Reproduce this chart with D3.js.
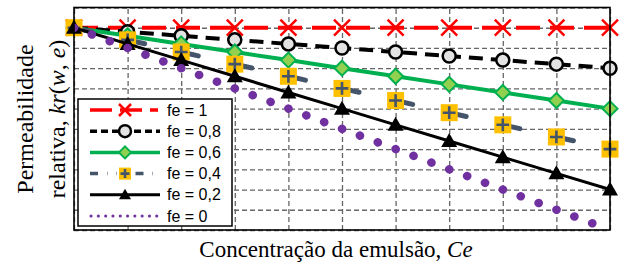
<!DOCTYPE html>
<html>
<head>
  <meta charset="utf-8">
  <title>Permeabilidade relativa</title>
  <style>
    body { margin: 0; background: #fff; }
    .grid line { stroke: #666; stroke-width: 1.3; stroke-dasharray: 5,3; }
    .grid .domain { display: none; }
  </style>
</head>
<body>
  <script src="https://d3js.org/d3.v7.min.js"></script>
  <script type="text/javascript">

// Ce (x axis), one point per grid line
var ce = [0, 1, 2, 3, 4, 5, 6, 7, 8, 9, 10];

// kr(w, e) for each fe
var fe1  = [1, 1, 1, 1, 1, 1, 1, 1, 1, 1, 1];
var fe08 = [1, 0.98, 0.96, 0.94, 0.92, 0.90, 0.88, 0.86, 0.84, 0.82, 0.80];
var fe06 = [1, 0.96, 0.92, 0.88, 0.84, 0.80, 0.76, 0.72, 0.68, 0.64, 0.60];
var fe04 = [1, 0.94, 0.88, 0.82, 0.76, 0.70, 0.64, 0.58, 0.52, 0.46, 0.40];
var fe02 = [1, 0.92, 0.84, 0.76, 0.68, 0.60, 0.52, 0.44, 0.36, 0.28, 0.20];
var fe0  = [1, 0.90, 0.80, 0.70, 0.60, 0.50, 0.40, 0.30, 0.20, 0.10, 0.00];

var seriesLabels = ["fe = 1", "fe = 0,8", "fe = 0,6", "fe = 0,4", "fe = 0,2", "fe = 0"];
var yTicks = [0, 0.1, 0.2, 0.3, 0.4, 0.5, 0.6, 0.7, 0.8, 0.9, 1.0, 1.1];

var margin = {top: 7.5, right: 14, bottom: 39, left: 74},
    width  = 624 - margin.left - margin.right,
    height = 269 - margin.top - margin.bottom;

var svg = d3.select("body")
    .append("svg")
    .attr("width", 624)
    .attr("height", 269);

var chart = svg.append("g")
    .attr("transform", "translate(" + margin.left + "," + margin.top + ")");

var xScale = d3.scaleLinear().domain([0, 10]).range([0, width]);
var yScale = d3.scaleLinear().domain([0, 1.1]).range([height, 0]);

// grid lines, no tick labels in the original
chart.append("g")
    .attr("class", "grid")
    .attr("transform", "translate(0," + height + ")")
    .call(d3.axisBottom(xScale).tickValues(ce).tickSize(-height).tickFormat(""));

chart.append("g")
    .attr("class", "grid")
    .call(d3.axisLeft(yScale).tickValues(yTicks).tickSize(-width).tickFormat(""));

chart.append("clipPath").attr("id", "plotclip")
  .append("rect").attr("width", width).attr("height", height);

var line = d3.line()
    .x(function(d){ return xScale(d[0]); })
    .y(function(d){ return yScale(d[1]); });

function pairs(vals){ return ce.map(function(c, i){ return [c, vals[i]]; }); }

// marker drawing helpers
function drawX(g, s){
  g.append("path").attr("d", "M" + (-s) + "," + (-s) + "L" + s + "," + s + "M" + (-s) + "," + s + "L" + s + "," + (-s))
    .attr("stroke", "#ff0000").attr("stroke-width", 2.5).attr("fill", "none");
}
function drawCircle(g, s){
  g.append("circle").attr("r", s).attr("fill", "#e3e3e3").attr("stroke", "#000").attr("stroke-width", 2.5);
}
function drawDiamond(g, s){
  g.append("path").attr("d", "M0," + (-s) + "L" + s + ",0L0," + s + "L" + (-s) + ",0Z")
    .attr("fill", "#92d050").attr("stroke", "#00b050").attr("stroke-width", 2);
}
function drawSquarePlus(g, s){
  g.append("rect").attr("x", -s).attr("y", -s).attr("width", 2 * s).attr("height", 2 * s).attr("fill", "#ffc000");
  var p = s * 0.75;
  g.append("path").attr("d", "M" + (-p) + ",0L" + p + ",0M0," + (-p) + "L0," + p)
    .attr("stroke", "#44546a").attr("stroke-width", 2.6);
}
function drawTriangle(g, s){
  g.append("path").attr("d", "M0," + (-s) + "L" + (s * 1.0) + "," + (s * 0.75) + "L" + (-s * 1.0) + "," + (s * 0.75) + "Z")
    .attr("fill", "#000");
}

var series = [
  {name: seriesLabels[0], values: fe1,  color: "#ff0000", width: 4,   dash: "24,10", off: 0, cap: "butt",  marker: drawX,          size: 8,   legSize: 6},
  {name: seriesLabels[1], values: fe08, color: "#000000", width: 4,   dash: "14,8",  off: 0, cap: "butt",  marker: drawCircle,     size: 6.5, legSize: 6},
  {name: seriesLabels[2], values: fe06, color: "#00b050", width: 4,   dash: null,    off: 0, cap: "butt",  marker: drawDiamond,    size: 7.5, legSize: 6},
  {name: seriesLabels[3], values: fe04, color: "#44546a", width: 5,   dash: "23,31.95", off: 5.5, cap: "round", marker: drawSquarePlus, size: 8.5, legSize: 6},
  {name: seriesLabels[4], values: fe02, color: "#000000", width: 3,   dash: null,    off: 0, cap: "butt",  marker: drawTriangle,   size: 8,   legSize: 6},
  {name: seriesLabels[5], values: fe0,  color: "#7030a0", width: 8.5, dash: "0.2,18.9", off: 0.1, cap: "round", marker: null,      size: 0,   legSize: 0}
];

series.forEach(function(s){
  var g = chart.append("g");
  var path = g.append("path")
      .datum(pairs(s.values))
      .attr("d", line)
      .attr("fill", "none")
      .attr("stroke", s.color)
      .attr("stroke-width", s.width)
      .attr("stroke-linecap", s.cap);
  if (s.dash) path.attr("stroke-dasharray", s.dash).attr("stroke-dashoffset", s.off);
  if (!s.marker) path.attr("clip-path", "url(#plotclip)");
  if (s.marker) {
    g.selectAll(".mk")
      .data(pairs(s.values))
      .enter()
      .append("g")
      .attr("transform", function(d){ return "translate(" + xScale(d[0]) + "," + yScale(d[1]) + ")"; })
      .each(function(){ s.marker(d3.select(this), s.size); });
  }
});

// plot border
chart.append("rect")
    .attr("width", width).attr("height", height)
    .attr("fill", "none").attr("stroke", "#000").attr("stroke-width", 1.6);

// legend
var legend = svg.append("g").attr("transform", "translate(78,99)");
legend.append("rect")
    .attr("width", 154).attr("height", 127)
    .attr("fill", "#fff").attr("stroke", "#000").attr("stroke-width", 1.5);

series.forEach(function(s, i){
  var yy = 11 + i * 21.2;
  var row = legend.append("g").attr("transform", "translate(0," + yy + ")");
  var l = row.append("line")
      .attr("x1", 12).attr("x2", 82).attr("y1", 0).attr("y2", 0)
      .attr("stroke", s.color)
      .attr("stroke-width", s.marker ? Math.min(s.width, 3.5) : 3)
      .attr("stroke-linecap", s.cap);
  if (i === 0) l.attr("stroke-dasharray", "22,8,22,8,8");
  else if (i === 1) l.attr("stroke-dasharray", "7,4");
  else if (i === 3) l.attr("stroke-dasharray", "8,9,0.5,9,0.5,9,0.5,9").attr("stroke-linecap", "butt");
  else if (i === 5) l.attr("stroke-dasharray", "0.1,7.2").attr("x1", 13);
  if (s.marker) {
    var m = row.append("g").attr("transform", "translate(47,0)");
    s.marker(m, s.legSize);
  }
  row.append("text")
      .attr("x", 89).attr("y", 5.6)
      .attr("font-family", "Liberation Sans, Arial, sans-serif")
      .attr("font-size", "16px")
      .attr("fill", "#000")
      .text(s.name);
});

// axis titles
var yTitle = svg.append("text")
    .attr("transform", "translate(0,119) rotate(-90)")
    .attr("text-anchor", "middle")
    .attr("font-family", "Liberation Serif, Times New Roman, serif")
    .attr("font-size", "24px")
    .attr("fill", "#000");
yTitle.append("tspan").attr("x", 0).attr("y", 33).text("Permeabilidade");
var l2 = yTitle.append("tspan").attr("x", 0).attr("y", 65);
l2.append("tspan").text("relativa, ");
l2.append("tspan").attr("font-style", "italic").text("kr");
l2.append("tspan").text("(");
l2.append("tspan").attr("font-style", "italic").text("w");
l2.append("tspan").text(", ");
l2.append("tspan").attr("font-style", "italic").text("e");
l2.append("tspan").text(")");

var xTitle = svg.append("text")
    .attr("x", 336).attr("y", 257)
    .attr("text-anchor", "middle")
    .attr("font-family", "Liberation Serif, Times New Roman, serif")
    .attr("font-size", "23px")
    .attr("fill", "#000");
xTitle.append("tspan").text("Concentração da emulsão, ");
xTitle.append("tspan").attr("font-style", "italic").text("Ce");

  </script>
</body>
</html>
